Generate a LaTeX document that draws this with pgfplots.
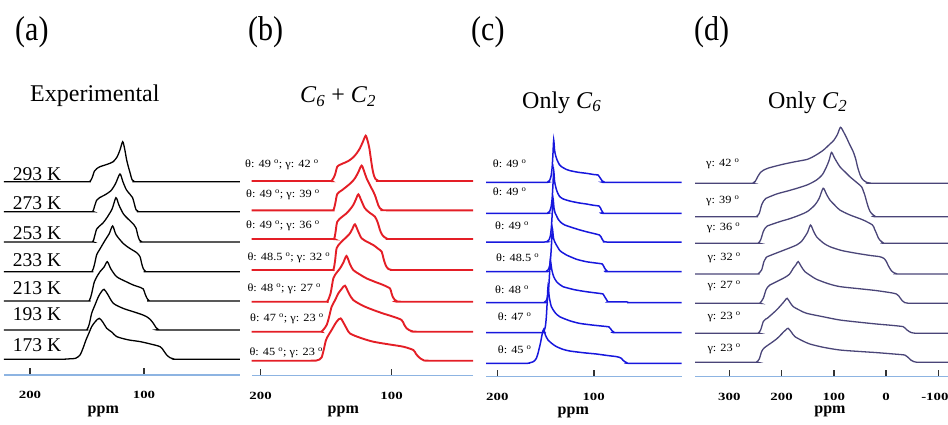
\documentclass[border=0pt]{standalone}
\usepackage{fontspec}
\setmainfont{Liberation Serif}
\usepackage{graphicx}
\usepackage{pgfplots}
\pgfplotsset{compat=1.18}

\definecolor{axisblue}{HTML}{8DB4E2}
\definecolor{specred}{HTML}{E41E26}
\definecolor{specblue}{HTML}{1717DD}
\definecolor{specgray}{HTML}{4A4578}

\newcommand\ticklab[1]{\scalebox{1.35}[1]{\fontsize{11}{11}\selectfont\bfseries #1}}
\newcommand\trlab[1]{\scalebox{1.12}[1]{\fontsize{11}{11}\selectfont #1}}
\newcommand\panel[1]{\scalebox{1}[1.15]{\fontsize{30}{30}\selectfont (#1)}}
\newcommand\dg{\ \textsuperscript{o}}

\pgfplotsset{
  stack/.style={
    scale only axis, anchor=south west,
    x dir=reverse, ymin=0, ymax=260, height=260pt,
    axis x line*=bottom, axis y line=none,
    x axis line style={-, draw=axisblue, line width=1.4pt},
    major tick length=0pt,
    xticklabel style={anchor=base, yshift=-23.5pt, inner sep=0pt},
    clip=false,
  },
  off/.style={y filter/.expression={y+#1}},
  expA/.style={black, line width=1.3pt, smooth, tension=0.45, no marks},
  simB/.style={specred, line width=1.9pt, smooth, tension=0.45, no marks},
  simC/.style={specblue, line width=1.5pt, smooth, tension=0.4, no marks},
  simD/.style={specgray, line width=1.3pt, smooth, tension=0.45, no marks},
}

\begin{document}
\begin{tikzpicture}
\path[use as bounding box] (0,0) rectangle (948pt,424pt);

% ---------------- (a) experimental spectra ----------------
\begin{axis}[stack, at={(4pt,49pt)}, width=236pt, xmin=15.8, xmax=222.8,
  xtick={100,200}, xticklabels={\ticklab{100},\ticklab{200}}]
\addplot[expA, off=193.3] coordinates {(222.8,0)(152,0)(147.5,0.3)(145.5,4)(143.5,10.5)(141.5,13)(138.6,15)(132,17.5)(127,20)(123.5,25)(121,32)(118.7,40)(117,33)(115.2,21.7)(113.5,14)(112,8)(110.5,2)(108.5,0.2)(104,0)(15.8,0)};
\addplot[expA, off=163.3] coordinates {(222.8,0)(150,0)(145,0.3)(143.5,5)(141.5,11.5)(139,14)(134,17)(129,21)(125,28)(121.1,37.7)(118.5,30)(115.5,22)(112,17)(110,14)(108.5,8)(107,2)(105,0.2)(100,0)(15.8,0)};
\addplot[expA, off=133] coordinates {(222.8,0)(150,0)(145,0.3)(143.5,5)(141.5,13)(139,16)(136,19)(132.7,24)(128,33)(124.6,44.3)(122,37)(118,28)(113,22)(109,17.5)(107,14)(105.5,7)(104,2)(102,0.2)(98,0)(15.8,0)};
\addplot[expA, off=103.3] coordinates {(222.8,0)(150,0)(145.5,0.5)(143.5,7)(141.5,17)(139,22)(134,31.7)(130.5,38)(127.5,45.7)(124.5,37)(118,28)(112,23)(106.4,19)(103.5,15)(102,8)(100.6,3)(98.5,0.3)(95,0)(15.8,0)};
\addplot[expA, off=74] coordinates {(222.8,0)(152,0)(148,0.5)(146,7)(143.6,19)(140.5,26)(138.6,29.3)(135,34)(132.2,39.3)(129,32)(124,24.3)(116,19.5)(109.4,16)(103,13.5)(100.6,12)(99,7)(97.5,3)(95.5,0.3)(92,0)(15.8,0)};
\addplot[expA, off=45] coordinates {(222.8,0)(154,0)(150,0.5)(148,6)(145.9,16.7)(143,25)(140,33.3)(137.5,38)(135.1,40.7)(132,36)(126.9,26.7)(118,21.5)(109.4,18.3)(102,15.5)(97.7,13.3)(94.5,10.5)(91.8,6.7)(89.5,2.5)(87.4,0.5)(84.5,0)(15.8,0)};
\addplot[expA, off=15.7] coordinates {(222.8,0)(175,0)(165,0.5)(160,1)(156.1,4.3)(153.5,11)(150.9,19.3)(148,27)(145.9,32.7)(142.5,38)(139.2,41)(136,37)(132.7,31)(128,27)(124,22.7)(114,19.5)(103.5,17.7)(95,15.5)(86,12.7)(83,9)(80.1,4.3)(77,1.5)(74.3,0.5)(70,0)(15.8,0)};
\end{axis}

% ---------------- (b) C6 + C2 ----------------
\begin{axis}[stack, at={(251.7pt,48.3pt)}, width=221.3pt, xmin=37.9, xmax=206.8,
  xtick={100,200}, xticklabels={\ticklab{100},\ticklab{200}}]
\addplot[simB, off=194.7] coordinates {(206.8,0)(150,0)(145.8,0.3)(143.3,6)(141.5,14.3)(139,16.5)(136.9,17.7)(133,20)(129.3,23.7)(126.5,28)(124.2,32.7)(122,39)(119.8,45.3)(118.3,40)(117,32.7)(115.6,20)(114.5,11)(113.5,5.5)(112.3,2)(110.5,0.4)(107,0)(37.9,0)};
\addplot[simB, off=165.4] coordinates {(206.8,0)(148,0)(144.5,0.3)(143,7)(141.5,16.3)(138,20)(134.4,23.7)(131,27.5)(128,32)(125.5,38)(122.9,44.7)(121,39)(119.1,32)(116.5,25)(114,18.7)(112.7,15)(111.5,10.3)(110.2,5)(108.9,2)(107,0.3)(104,0)(37.9,0)};
\addplot[simB, off=136.7] coordinates {(206.8,0)(148,0)(144,0.3)(142.8,7)(141.5,17.3)(138,22)(134.4,25.7)(131.5,30)(129.3,34)(127.3,39.5)(125.4,44.7)(123,38)(120.4,30.7)(116.5,26)(112.7,22.3)(110.5,16)(108.9,9)(107.4,4.5)(105.9,2.3)(103.5,0.4)(100,0)(37.9,0)};
\addplot[simB, off=105.7] coordinates {(206.8,0)(148,0)(144.5,0.5)(143.2,9)(142,21.7)(139.5,26.5)(136.9,30)(134,33.5)(131.8,36.7)(130,41)(128,45.7)(125.5,38.5)(122.9,31.7)(118.5,28)(114,25)(110.5,21.5)(107.6,18.3)(106.3,12)(105.1,6.7)(103.8,3)(102.5,1)(100,0.1)(97,0)(37.9,0)};
\addplot[simB, off=74] coordinates {(206.8,0)(152,0)(149.1,0.3)(146.6,8.3)(144.5,23.3)(142,29)(139.4,33.3)(136.9,39)(134.4,45.7)(131.8,37.5)(129.3,31.7)(124,27)(119.1,23.3)(113,20)(106.4,16.7)(101.3,13.3)(100.2,9)(99.2,5)(97.7,2)(96.2,0.7)(93,0)(37.9,0)};
\addplot[simB, off=44] coordinates {(206.8,0)(157,0)(153.4,0.3)(149.6,6.7)(147.5,16)(145.8,25)(143,32)(140.7,38.3)(138,43)(135.6,46)(132.5,38)(129.3,31.7)(122,26)(114,21.7)(106,18)(98.7,15)(92.4,11.7)(90.4,7)(88.5,3.3)(86.5,1.5)(84.7,0.7)(81,0)(37.9,0)};
\addplot[simB, off=15] coordinates {(206.8,0)(162,0)(157.3,0.3)(155,1.2)(153.4,3.3)(151.8,11)(150.1,20.7)(148,26)(145.8,30.7)(142,39)(138.9,42.3)(135.5,35)(131.8,27.3)(123,22.5)(114,19)(102,16.3)(91.1,14)(83.5,10.7)(81.5,7)(79.6,4)(77.5,1.8)(75.8,0.7)(72,0)(37.9,0)};
\end{axis}

% ---------------- (c) only C6 ----------------
\begin{axis}[stack, at={(486pt,47.3pt)}, width=195.7pt, xmin=8.6, xmax=211.8,
  xtick={100,200}, xticklabels={\ticklab{100},\ticklab{200}}]
\addplot[simC, off=194.4] coordinates {(211.8,0)(150,0)(147.5,0.5)(145.7,2)(144.3,6)(143.2,14)(142.3,28)(141.5,42.3)(140.6,32)(139.3,26)(138,22.3)(135.5,17.5)(133.6,15.7)(128.3,12.8)(124.9,11.7)(116,10)(107.6,9)(100,7.8)(95.5,7.3)(94,5.5)(93,4)(91,1.3)(89,0.3)(86.8,0)(8.6,0)};
\addplot[simC, off=163.4] coordinates {(211.8,0)(150,0)(147.5,0.5)(145.7,2)(144.3,6)(143.2,14)(142.3,28)(141.5,42.7)(140.6,32)(139.3,26)(138,21.7)(135.5,17)(132,14.5)(124.9,12.3)(116,10.5)(107.6,9.3)(100,8)(94.5,7.3)(93,5.5)(92,3.3)(90.3,0.7)(88,0)(8.6,0)};
\addplot[simC, off=134.7] coordinates {(211.8,0)(151,0)(148.5,0.5)(146.5,2)(145,6)(143.9,15)(143,29)(142.2,43.7)(141.2,34)(140,29)(138.5,26)(137,23)(134,19.5)(130,17)(124.9,15.3)(116,12.5)(107.6,10.3)(100,8.5)(94,7)(92.5,5.3)(91.3,3)(90,1)(88.5,0.2)(86,0)(8.6,0)};
\addplot[simC, off=105] coordinates {(211.8,0)(151.5,0)(149,0.5)(147.2,2)(145.7,6)(144.6,15)(143.7,29)(142.9,43.3)(141.8,34)(140.5,30)(138.7,26.7)(135,21)(131,18.3)(128.3,16.7)(118,12.5)(107.6,10)(98,8.7)(91,7.7)(89.6,5.5)(88.5,3.3)(87,1.5)(86.1,0.7)(84,0)(8.6,0)};
\addplot[simC, off=74] coordinates {(211.8,0)(153.5,0)(151,0.5)(149.3,2)(147.8,6)(146.7,15)(145.8,29)(145,42.7)(143.5,33)(141.5,26)(138.5,21)(135,18)(131.8,16)(120,13)(107.6,11)(98,9.8)(90.3,8.7)(88.9,6.5)(87.5,4.3)(86,2)(85.1,1)(84,0.9)(66,0.9)(64.3,0.1)(62,0)(8.6,0)};
\addplot[simC, off=44] coordinates {(211.8,0)(155.5,0)(153,0.5)(151.5,2)(150.2,6)(149.2,15)(148.3,30)(147.4,46)(146,35)(143.9,26)(140,20)(135.3,16)(125,12)(114.5,9.3)(100,7.5)(85.1,6)(83.8,5.3)(82.7,4.3)(81,2)(79.2,0.7)(76,0)(8.6,0)};
\addplot[simC, off=13.4] coordinates {(211.8,0)(170,0)(166.4,0.5)(163,1.5)(161.2,2.7)(159.5,5)(157.8,10)(155.3,20)(153.3,30)(151.9,34)(150,28)(147.4,23.3)(143,19.5)(138.7,16.7)(132,14)(124.9,12.3)(110,10.5)(97.2,9.3)(85,7.7)(76.4,6.7)(73.5,6)(71.2,5)(69.5,3)(67.8,1.7)(65.5,0.5)(62.6,0)(8.6,0)};
\end{axis}

% ---------------- (d) only C2 ----------------
\begin{axis}[stack, at={(695pt,47.3pt)}, width=253pt, xmin=-118.4, xmax=365.6,
  xtick={-100,0,100,200,300},
  xticklabels={\hspace*{-7pt}\ticklab{-100},\ticklab{0},\ticklab{100},\ticklab{200},\ticklab{300}}]
\addplot[simD, off=193.4] coordinates {(365.6,0)(260,0)(254.8,0.3)(250.3,2)(245.2,7)(240.1,11)(235,13)(224.8,15.3)(200,18.7)(175,21.5)(150.3,24)(135,28)(120.4,33)(108,39)(100,43)(93,49)(87.3,56)(81,51)(75.2,45)(69,38)(63,31.7)(58,24)(54.8,16.7)(49.7,8.3)(45.2,4)(40,1.8)(37.6,1)(30,0.2)(20,0)(-118.4,0)};
\addplot[simD, off=160] coordinates {(365.6,0)(252,0)(247.8,0.3)(242.7,3.3)(238.2,11.7)(234,16)(230,18.3)(209.6,22.7)(190,25.5)(171.3,28.3)(150,32)(133.1,36.7)(122,42)(114,50)(109,56.5)(104.5,64.3)(99,59)(88.5,50)(79,45)(69.4,40)(58,35)(47.1,30)(43.8,26)(40.8,21.7)(37.5,15.5)(34.4,10)(31,5.5)(28,3.3)(22,0.8)(15.3,0)(-118.4,0)};
\addplot[simD, off=133.4] coordinates {(365.6,0)(250,0)(244.6,0.3)(240.1,3.3)(235,11.7)(231,15.5)(227.4,17.3)(203.2,21.7)(185,24.5)(165,28.3)(150,32)(136.3,38.3)(128,45)(120.4,55)(114,49)(107.6,43.3)(98,38)(88.5,33.3)(70,28.5)(43.9,23.3)(26.1,18.3)(22,14)(18.5,10)(15,5.5)(12.1,3.3)(6,0.7)(-0.6,0)(-118.4,0)};
\addplot[simD, off=102.7] coordinates {(365.6,0)(250,0)(244.6,0.3)(238.2,4)(233.8,12.3)(230,15.8)(227.4,17.3)(203.2,22.3)(185,26)(171.3,29)(162,32.5)(155.4,37.3)(150,42)(144.6,49)(139,43)(133.1,37.3)(120,31)(107.6,27.3)(85,23.5)(56.7,20.7)(30,18.5)(12.1,17.3)(4,15.5)(-0.6,12.3)(-4,8.5)(-7,5.7)(-10.5,3)(-14.6,1.3)(-20,0.3)(-26.1,0)(-118.4,0)};
\addplot[simD, off=73.4] coordinates {(365.6,0)(248,0)(241.4,0.3)(235,5)(229.9,13.3)(226,16.5)(222.3,18.3)(196.8,25)(185,29)(177.7,35)(172.5,38.5)(168.2,41.7)(162,36.5)(155.4,31.7)(144,27.5)(133.1,24)(110,19.5)(88.5,16.7)(50,14.5)(18.5,12.7)(-10,10.5)(-19.7,9.3)(-24,7.5)(-27.4,5)(-31,2.5)(-35.7,0.7)(-42,0.1)(-48.4,0)(-118.4,0)};
\addplot[simD, off=43.4] coordinates {(365.6,0)(250,0)(244.6,0.3)(240.1,3.3)(235,11.7)(231,14)(227.4,15)(209.6,23.3)(196.8,30.7)(192.5,33.5)(189.2,35)(184,31)(177.7,26.7)(165,23)(152.2,20)(120,16.5)(88.5,13.3)(50,11)(18.5,9.3)(-10,8)(-32.5,6.7)(-36,5.3)(-40.1,3.3)(-44,1.8)(-48.4,0.7)(-55,0.1)(-61.1,0)(-118.4,0)};
\addplot[simD, off=14.4] coordinates {(365.6,0)(253,0)(247.8,0.3)(242.7,3.3)(238.2,10.7)(234,14)(230,15.7)(209.6,23.3)(195.5,30.7)(191,32.8)(187.3,34)(181,30)(174.5,25.7)(160,21.5)(145.9,18.3)(120,15)(88.5,12.3)(50,10.8)(18.5,9.7)(-10,8.5)(-35.7,7.3)(-40,5.8)(-43.9,4)(-48,2)(-52.9,0.7)(-58,0.1)(-64.3,0)(-118.4,0)};
\end{axis}

% short upward tick marks on each ppm axis line (200/100; 300..-100 in d)
\begin{scope}[black!80, line width=1.5pt]
\foreach \x/\y in {30/49, 144/49, 260.7/48.3, 391.7/48.3, 497.7/47.3, 594/47.3,
                   729.3/47.3, 781.7/47.3, 834/47.3, 886/47.3, 938.3/47.3}
  \draw (\x pt,\y pt+0.8pt) -- (\x pt,\y pt+7pt);
\end{scope}

% ---------------- panel letters and headings ----------------
\begin{scope}[every node/.style={inner sep=0pt, anchor=base west}]
\node at (15pt,383pt)  {\panel{a}};
\node at (248pt,383pt) {\panel{b}};
\node at (471pt,383pt) {\panel{c}};
\node at (694pt,383pt) {\panel{d}};
\node at (30pt,322pt)  {\fontsize{24}{24}\selectfont Experimental};
\node at (300pt,321pt) {\fontsize{24}{24}\selectfont \textit{C}\textsubscript{\textit{6}} + \textit{C}\textsubscript{\textit{2}}};
\node at (522pt,316pt) {\fontsize{24}{24}\selectfont Only \textit{C}\textsubscript{\textit{6}}};
\node at (768pt,316pt) {\fontsize{24}{24}\selectfont Only \textit{C}\textsubscript{\textit{2}}};

% temperatures
\foreach \t/\y in {293/244,273/214.7,253/184.7,233/158,213/129.7,193/103.3,173/72.3}
  \node at (12.7pt,\y pt) {\fontsize{19.5}{19.5}\selectfont \t\ K};

% (b) orientation labels
\node at (245pt,256.3pt)   {\trlab{θ: 49\dg; γ: 42\dg}};
\node at (246pt,226.7pt)   {\trlab{θ: 49\dg; γ: 39\dg}};
\node at (246pt,195.7pt)   {\trlab{θ: 49\dg; γ: 36\dg}};
\node at (247.3pt,164pt)   {\trlab{θ: 48.5\dg; γ: 32\dg}};
\node at (247.3pt,132.3pt) {\trlab{θ: 48\dg; γ: 27\dg}};
\node at (250pt,102.3pt)   {\trlab{θ: 47\dg; γ: 23\dg}};
\node at (249.3pt,69pt)    {\trlab{θ: 45\dg; γ: 23\dg}};

% (c) labels
\node at (492.7pt,256.7pt) {\trlab{θ: 49\dg}};
\node at (492.7pt,229pt)   {\trlab{θ: 49\dg}};
\node at (495pt,194.7pt)   {\trlab{θ: 49\dg}};
\node at (496pt,162.3pt)   {\trlab{θ: 48.5\dg}};
\node at (495pt,130.7pt)   {\trlab{θ: 48\dg}};
\node at (497.7pt,104pt)   {\trlab{θ: 47\dg}};
\node at (497.7pt,70.7pt)  {\trlab{θ: 45\dg}};

% (d) labels
\node at (706pt,257.3pt)   {\trlab{γ: 42\dg}};
\node at (706pt,220.7pt)   {\trlab{γ: 39\dg}};
\node at (706.7pt,194pt)   {\trlab{γ: 36\dg}};
\node at (707.3pt,164pt)   {\trlab{γ: 32\dg}};
\node at (707.3pt,135.7pt) {\trlab{γ: 27\dg}};
\node at (707.3pt,104.7pt) {\trlab{γ: 23\dg}};
\node at (707.3pt,72.3pt)  {\trlab{γ: 23\dg}};
\end{scope}

% axis titles
\begin{scope}[every node/.style={inner sep=0pt, anchor=base}]
\node at (103.3pt,11pt) {\fontsize{16}{16}\selectfont\bfseries ppm};
\node at (343.3pt,11pt) {\fontsize{16}{16}\selectfont\bfseries ppm};
\node at (573.3pt,10pt) {\fontsize{16}{16}\selectfont\bfseries ppm};
\node at (830pt,10.5pt) {\fontsize{16}{16}\selectfont\bfseries ppm};
\end{scope}
\end{tikzpicture}
\end{document}
